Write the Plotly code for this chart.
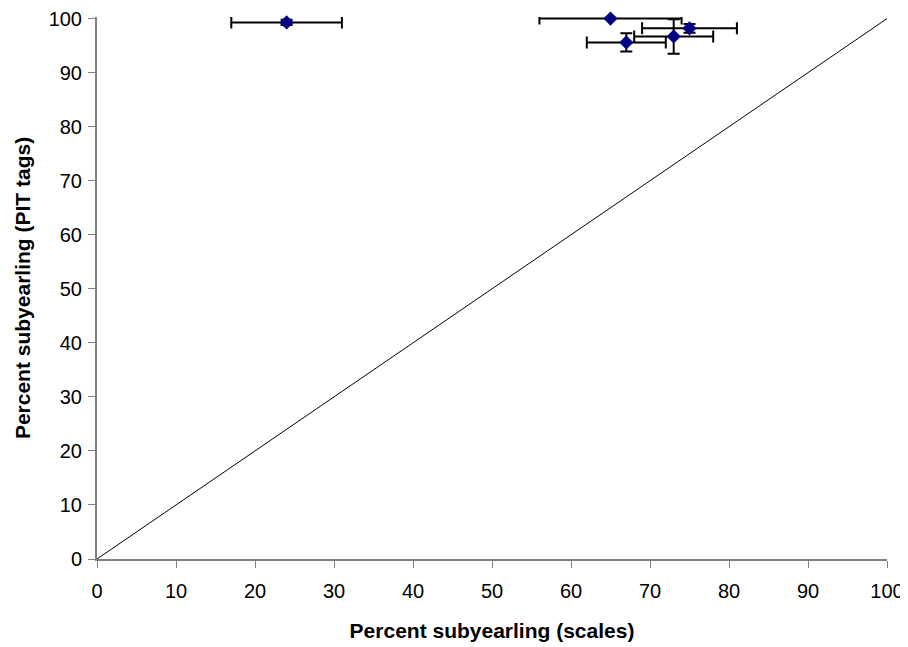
import plotly.graph_objects as go

scales = [65, 75, 73, 67, 24]
pit = [100, 98.2, 96.7, 95.6, 99.3]
scales_err = [9, 6, 5, 5, 7]
pit_err = [0, 0.8, 3.2, 1.7, 0.5]
line_vals = [0, 100]
ticks = list(range(0, 101, 10))

fig = go.Figure()
fig.add_trace(go.Scatter(x=line_vals, y=line_vals, mode="lines",
                         line=dict(color="black", width=1), showlegend=False, hoverinfo="skip"))
fig.add_trace(go.Scatter(
    x=scales, y=pit, mode="markers", cliponaxis=False,
    marker=dict(symbol="diamond", size=11, color="#000080"),
    error_x=dict(type="data", array=scales_err, color="black", thickness=2, width=6),
    error_y=dict(type="data", array=pit_err, color="black", thickness=2, width=6),
    showlegend=False))

axis_common = dict(tickvals=ticks, showgrid=False, zeroline=False,
                   showline=True, linecolor="#808080", linewidth=2, automargin=False,
                   ticks="outside", ticklen=7, tickcolor="#808080", tickwidth=1,
                   ticklabeloverflow="allow",
                   tickfont=dict(size=20, color="black"))

fig.update_layout(
    width=908, height=647,
    margin=dict(l=89, r=29, t=9, b=96),
    plot_bgcolor="white", paper_bgcolor="white",
    font=dict(family="Liberation Sans, Arial, sans-serif", color="black"),
    xaxis=dict(**axis_common, range=[0, 100], ticklabelstandoff=6,
               title=dict(text="<b>Percent subyearling (scales)</b>",
                          font=dict(size=21), standoff=22)),
    yaxis=dict(**axis_common, range=[0, 100.3], ticklabelstandoff=2,
               title=dict(text="<b>Percent subyearling (PIT tags)</b>",
                          font=dict(size=21), standoff=12)),
)
fig.write_html("out.html")
